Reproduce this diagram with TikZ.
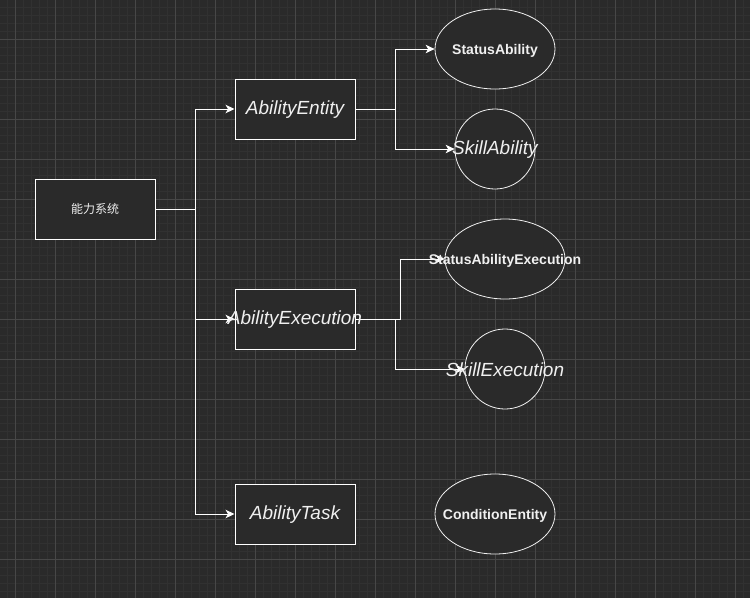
\documentclass[tikz,border=0pt]{standalone}
\usepackage{xcolor}
\usepackage{fontspec}
\setmainfont{Liberation Sans}
\newfontfamily\cjk{Noto Sans CJK SC}
\usepackage{tikz}
\usetikzlibrary{positioning, shapes.geometric, arrows.meta}

\definecolor{canvas}{HTML}{2A2A2A}
\definecolor{minorgrid}{HTML}{313131}
\definecolor{majorgrid}{HTML}{474747}
\definecolor{ink}{HTML}{F0F0F0}

\pgfdeclarelayer{grid}
\pgfdeclarelayer{links}
\pgfsetlayers{grid,links,main}

\begin{document}
\begin{tikzpicture}[x=1pt, y=-1pt, node distance=200pt, on grid,
        >={Stealth[length=9pt, width=8.5pt, inset=2.5pt]},
        box/.style={draw=white, line width=1pt, fill=canvas,
            minimum width=120pt, minimum height=60pt, inner sep=0pt,
            label={[text=ink, font=\itshape\fontsize{19}{22}\selectfont, yshift=-1pt]center:#1}},
        oval/.style={ellipse, draw=ink, line width=0.8pt, fill=canvas,
            minimum width=120pt, minimum height=80pt, inner sep=0pt,
            label={[text=ink, font=\bfseries\fontsize{14}{16}\selectfont, yshift=-1.5pt]center:#1}},
        disk/.style={circle, draw=ink, line width=0.8pt, fill=canvas,
            minimum size=80pt, inner sep=0pt,
            label={[text=ink, font=\itshape\fontsize{19}{22}\selectfont, yshift=-1pt]center:#1}},
        link/.style={->, draw=white, line width=1pt}]
        \useasboundingbox (0,0) rectangle (750,598);

        \begin{pgfonlayer}{grid}
            \fill[canvas] (0,0) rectangle (750,598);
            \foreach \x in {7,15,...,750} \draw[minorgrid, line width=1pt] (\x,0) -- (\x,598);
            \foreach \y in {7,15,...,598} \draw[minorgrid, line width=1pt] (0,\y) -- (750,\y);
            \foreach \x in {15,55,...,750} \draw[majorgrid, line width=1pt] (\x,0) -- (\x,598);
            \foreach \y in {39,79,...,598} \draw[majorgrid, line width=1pt] (0,\y) -- (750,\y);
        \end{pgfonlayer}

        \node[box={}, text=ink, font=\cjk\fontsize{12}{14}\selectfont] (root) at (95,209) {能力系统};
        \node[box=AbilityEntity] (entity) [above right=100pt and 200pt of root] {};
        \node[box=AbilityExecution] (exec) [below right=110pt and 200pt of root] {};
        \node[box=AbilityTask] (task) [below right=305pt and 200pt of root] {};

        \node[oval=StatusAbility] (status) [above right=60pt and 200pt of entity] {};
        \node[disk=SkillAbility] (skill) [below right=40pt and 200pt of entity] {};
        \node[oval=StatusAbilityExecution] (statusexec) [above right=60pt and 210pt of exec] {};
        \node[disk=SkillExecution] (skillexec) [below right=50pt and 210pt of exec] {};
        \node[oval=ConditionEntity] (cond) [right=of task] {};

        \begin{pgfonlayer}{links}
            \draw[link] (root.east) -- ++(40,0) |- (entity.west);
            \draw[link] (root.east) -- ++(40,0) |- (exec.west);
            \draw[link] (root.east) -- ++(40,0) |- (task.west);
            \draw[link] (entity.east) -- ++(40,0) |- (status.west);
            \draw[link] (entity.east) -- ++(40,0) |- (skill.west);
            \draw[link] (exec.east) -- ++(45,0) |- (statusexec.west);
            \draw[link] (exec.east) -- ++(40,0) |- (skillexec.west);
        \end{pgfonlayer}
    \end{tikzpicture}
\end{document}
